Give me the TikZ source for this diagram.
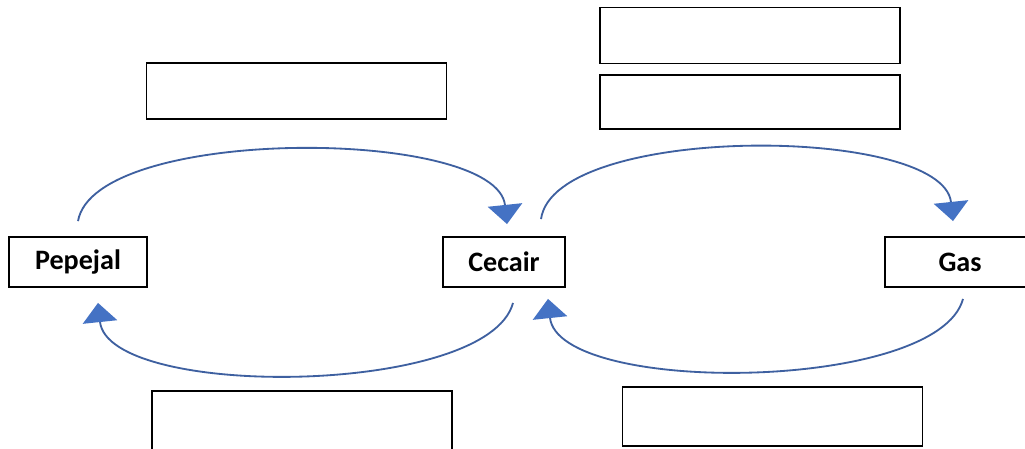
\documentclass[tikz,border=0pt]{standalone}
\usepackage{fontspec}
\setmainfont{Carlito}
\usepackage{tikz}
\usetikzlibrary{arrows.meta}
\usetikzlibrary{positioning}

\definecolor{flowline}{RGB}{62,96,160}
\definecolor{flowtip}{RGB}{68,114,196}

\begin{document}
\begin{tikzpicture}[x=0.025cm, y=0.025cm,
    stage/.style={draw, line width=1.3pt, minimum height=1.25cm, inner sep=0pt,
      font=\fontsize{20}{23}\selectfont\bfseries},
    blank/.style={draw, line width=1.2pt, minimum width=7.5cm, inner sep=0pt},
    flow/.style={flowline, line width=1.3pt,
      -{Triangle[length=0.48cm, width=0.86cm, color=flowtip, fill=flowtip]}}]
  \fill[white] (0,0) rectangle (1025,448);
  \useasboundingbox (0,0) rectangle (1025,448);

  % States of matter
  \node[stage, minimum width=3.45cm] (pepejal) at (78,186) {Pepejal};
  \node[stage, minimum width=3.05cm] (cecair) at (504,186) {Cecair};
  \node[stage, minimum width=3.75cm] (gas) at (960,186) {Gas};

  % Empty answer boxes
  \node[blank, minimum height=1.4cm] (ansPC) at (296.5,357) {};
  \node[blank, minimum height=1.4cm] (ansCGa) at (750,412.5) {};
  \node[blank, minimum height=1.35cm] (ansCGb) at (750,346) {};
  \node[blank, minimum height=1.5cm] (ansCP) at (302,27) {};
  \node[blank, minimum height=1.475cm] (ansGC) at (772.5,31.5) {};

  % Changes of state
  \draw[flow] ([yshift=0.375cm]pepejal.north) to[out=80, in=96, looseness=0.58]
    ([xshift=0.075cm, yshift=0.3cm]cecair.north);
  \draw[flow] ([xshift=0.925cm, yshift=0.425cm]cecair.north) to[out=82, in=96, looseness=0.6]
    ([xshift=-0.175cm, yshift=0.375cm]gas.north);
  \draw[flow] ([xshift=0.075cm, yshift=-0.275cm]gas.south) to[out=-105, in=-84, looseness=0.6]
    ([xshift=1.1cm, yshift=-0.275cm]cecair.south);
  \draw[flow] ([xshift=0.225cm, yshift=-0.375cm]cecair.south) to[out=-105, in=-84, looseness=0.6]
    ([xshift=0.5cm, yshift=-0.375cm]pepejal.south);
\end{tikzpicture}
\end{document}
